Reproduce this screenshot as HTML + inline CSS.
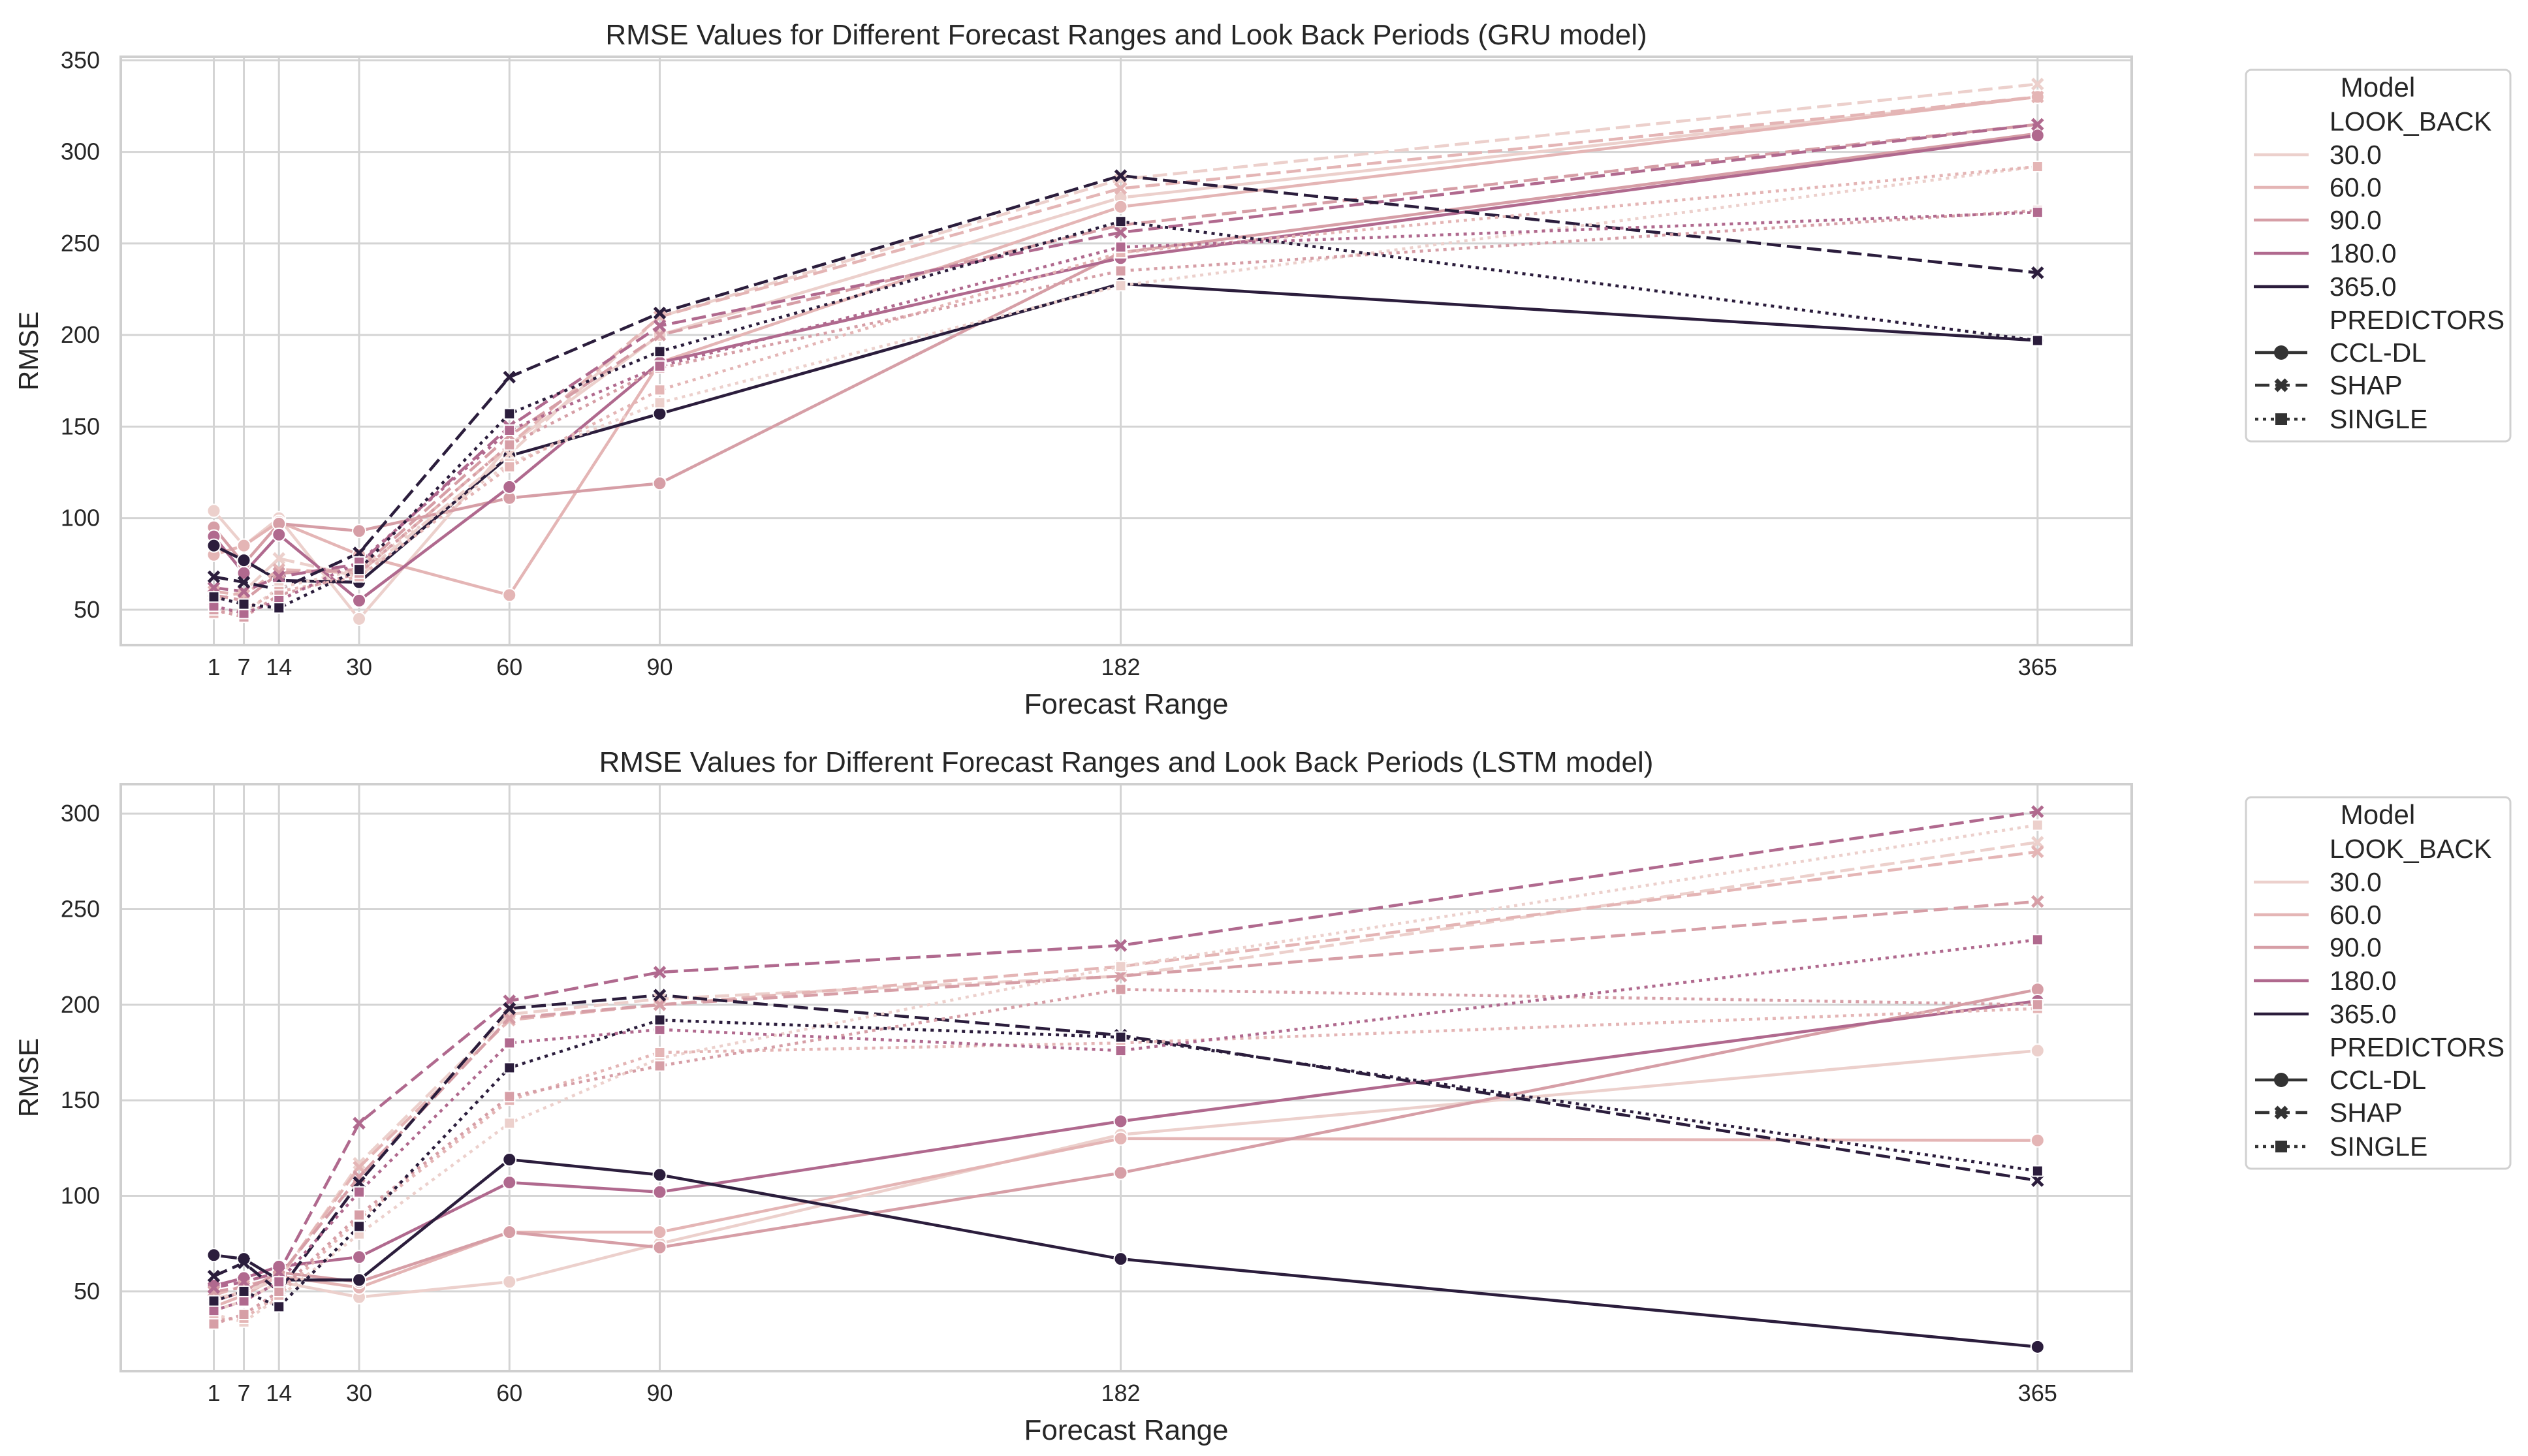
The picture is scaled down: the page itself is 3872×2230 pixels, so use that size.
<!DOCTYPE html>
<html><head><meta charset="utf-8">
<style>
html,body{margin:0;padding:0;background:#fff;}
svg{display:block;font-family:"Liberation Sans",Arial,sans-serif;}
</style></head>
<body>
<svg id="chart" width="3872" height="2230" viewBox="0 0 3872 2230" xmlns="http://www.w3.org/2000/svg"></svg>
<script>
const forecastRanges = [1, 7, 14, 30, 60, 90, 182, 365];
const lookBacks = ["30.0", "60.0", "90.0", "180.0", "365.0"];
const predictors = ["CCL-DL", "SHAP", "SINGLE"];
// GRU values [lookback][range]
const gruCCL = [
  [104, 85, 100, 45, 140, 200, 275, 330],
  [80, 85, 98, 80, 58, 185, 270, 330],
  [95, 75, 97, 93, 111, 119, 245, 310],
  [90, 70, 91, 55, 117, 185, 242, 309],
  [85, 77, 66, 65, 134, 157, 228, 197]
];
const gruSHAP = [
  [55, 60, 78, 68, 135, 210, 285, 337],
  [60, 58, 72, 70, 140, 210, 280, 330],
  [58, 55, 70, 72, 145, 200, 260, 315],
  [62, 60, 68, 75, 150, 205, 256, 315],
  [68, 65, 61, 81, 177, 212, 287, 234]
];
const gruSINGLE = [
  [50, 48, 62, 72, 130, 163, 227, 292],
  [48, 50, 60, 68, 128, 170, 245, 292],
  [50, 46, 58, 70, 140, 182, 235, 268],
  [52, 48, 55, 76, 148, 183, 248, 267],
  [57, 53, 51, 72, 157, 191, 262, 197]
];
const lstmCCL = [
  [40, 45, 55, 47, 55, 75, 132, 176],
  [42, 48, 58, 52, 81, 81, 130, 129],
  [45, 50, 60, 55, 81, 73, 112, 208],
  [53, 57, 63, 68, 107, 102, 139, 202],
  [69, 67, 56, 56, 119, 111, 67, 21]
];
const lstmSHAP = [
  [46, 50, 56, 117, 195, 203, 215, 285],
  [48, 53, 57, 115, 192, 200, 220, 280],
  [50, 52, 58, 110, 193, 200, 215, 254],
  [52, 55, 60, 138, 202, 217, 231, 301],
  [58, 65, 50, 107, 198, 205, 184, 108]
];
const lstmSINGLE = [
  [38, 34, 47, 80, 138, 172, 220, 294],
  [35, 36, 48, 88, 150, 175, 180, 198],
  [33, 38, 50, 90, 152, 168, 208, 200],
  [40, 45, 55, 102, 180, 187, 176, 234],
  [45, 50, 42, 84, 167, 192, 183, 113]
];
const gruYTicks = [50, 100, 150, 200, 250, 300, 350];
const lstmYTicks = [50, 100, 150, 200, 250, 300];

const colors = ["#ecd0cc", "#e4b5b5", "#d69ea6", "#b0698e", "#2b1d3c"];
const dashes = ["", "22,9", "5,7"];
const NS = "http://www.w3.org/2000/svg";
const svg = document.getElementById("chart");
function el(tag, attrs, parent) {
  const e = document.createElementNS(NS, tag);
  for (const k in attrs) e.setAttribute(k, attrs[k]);
  (parent || svg).appendChild(e);
  return e;
}

function drawPanel(cfg) {
  const g = el("g", {});
  
  
  const L = 185, R = 3265, T = cfg.top, B = cfg.bottom;
  const xs = v => 327.5 + (v - 1) * 7.674;
  const ys = v => T + (cfg.ymax - v) / (cfg.ymax - cfg.ymin) * (B - T);
  cfg.yTicks.forEach(t => {
    const gl = el("line", {x1: L, x2: R, y1: ys(t), y2: ys(t), stroke: "#d4d4d4", "stroke-width": 3}, g);
    
    
    const tl = el("text", {x: 153, y: ys(t) + 12, "text-anchor": "end", "font-size": 36, fill: "#262626"}, g);
    tl.textContent = t;
    
    
  });
  forecastRanges.forEach(f => {
    const gl = el("line", {x1: xs(f), x2: xs(f), y1: T, y2: B, stroke: "#d4d4d4", "stroke-width": 3}, g);
    
    
    const tl = el("text", {x: xs(f), y: B + 46, "text-anchor": "middle", "font-size": 36, fill: "#262626"}, g);
    tl.textContent = f;
    
    
  });
  const frame = el("rect", {x: L, y: T, width: R - L, height: B - T, fill: "none", stroke: "#cfcfcf", "stroke-width": 4}, g);
  
  
  const sets = [cfg.ccl, cfg.shap, cfg.single];
  sets.forEach((set, pi) => {
    set.forEach((vals, li) => {
      const pts = vals.map((v, i) => xs(forecastRanges[i]) + "," + ys(v)).join(" ");
      const pl = el("polyline", {points: pts, fill: "none", stroke: colors[li], "stroke-width": 4.5, "stroke-dasharray": dashes[pi]}, g);
      
      
    });
  });
  sets.forEach((set, pi) => {
    set.forEach((vals, li) => {
      vals.forEach((v, i) => {
        const cx = xs(forecastRanges[i]), cy = ys(v);
        let m;
        if (pi === 0) m = el("circle", {cx: cx, cy: cy, r: 10, fill: colors[li], stroke: "#fff", "stroke-width": 2}, g);
        else if (pi === 2) m = el("rect", {x: cx - 8, y: cy - 8, width: 16, height: 16, fill: colors[li], stroke: "#fff", "stroke-width": 2}, g);
        else m = el("path", {d: `M${cx-8},${cy-8}L${cx+8},${cy+8}M${cx+8},${cy-8}L${cx-8},${cy+8}`, stroke: colors[li], "stroke-width": 5}, g);
        
        
      });
    });
  });
  const title = el("text", {x: 1725, y: cfg.titleY, "text-anchor": "middle", "font-size": 44, fill: "#262626"}, g);
  title.textContent = cfg.title;
  
  
  const xl = el("text", {x: 1725, y: B + 105, "text-anchor": "middle", "font-size": 44, fill: "#262626"}, g);
  xl.textContent = "Forecast Range";
  
  
  const yl = el("text", {x: 0, y: 0, "text-anchor": "middle", "font-size": 42, fill: "#262626", transform: `translate(58,${(T + B) / 2}) rotate(-90)`}, g);
  yl.textContent = "RMSE";
  
  
  const lg = el("g", {}, g);
  
  
  const o = cfg.legendTop - 107;
  el("rect", {x: 3440, y: 107 + o, width: 405, height: 569, rx: 8, fill: "#fff", stroke: "#d0d0d0", "stroke-width": 3}, lg);
  const lt = el("text", {x: 3642, y: 148 + o, "text-anchor": "middle", "font-size": 42, fill: "#262626"}, lg);
  lt.textContent = "Model";
  
  
  const rows = [
    {t: "LOOK_BACK", y: 186}, {t: "30.0", y: 237, c: 0}, {t: "60.0", y: 287, c: 1}, {t: "90.0", y: 337, c: 2},
    {t: "180.0", y: 388, c: 3}, {t: "365.0", y: 439, c: 4}, {t: "PREDICTORS", y: 490},
    {t: "CCL-DL", y: 540, p: 0}, {t: "SHAP", y: 590, p: 1}, {t: "SINGLE", y: 642, p: 2}
  ];
  rows.forEach(r => {
    const y = r.y + o;
    const tx = el("text", {x: 3568, y: y + 14, "font-size": 41, fill: "#262626"}, lg);
    tx.textContent = r.t;
    
    
    if (r.c !== undefined) el("line", {x1: 3452, x2: 3536, y1: y, y2: y, stroke: colors[r.c], "stroke-width": 4.5}, lg);
    if (r.p !== undefined) {
      el("line", {x1: 3454, x2: 3534, y1: y, y2: y, stroke: "#333", "stroke-width": 4.5, "stroke-dasharray": dashes[r.p]}, lg);
      if (r.p === 0) el("circle", {cx: 3494, cy: y, r: 11, fill: "#333"}, lg);
      else if (r.p === 1) el("path", {d: `M${3486},${y-8}L${3502},${y+8}M${3502},${y-8}L${3486},${y+8}`, stroke: "#333", "stroke-width": 7}, lg);
      else el("rect", {x: 3485, y: y - 9, width: 18, height: 18, fill: "#333"}, lg);
    }
  });
}

drawPanel({name: "gru-panel", title: "RMSE Values for Different Forecast Ranges and Look Back Periods (GRU model)",
  top: 87, bottom: 988, ymin: 30.7, ymax: 351.9, yTicks: gruYTicks, ccl: gruCCL, shap: gruSHAP, single: gruSINGLE,
  titleY: 68, legendTop: 107});
drawPanel({name: "lstm-panel", title: "RMSE Values for Different Forecast Ranges and Look Back Periods (LSTM model)",
  top: 1201, bottom: 2100, ymin: 8.3, ymax: 315.4, yTicks: lstmYTicks, ccl: lstmCCL, shap: lstmSHAP, single: lstmSINGLE,
  titleY: 1182, legendTop: 1221});
</script>
</body></html>
